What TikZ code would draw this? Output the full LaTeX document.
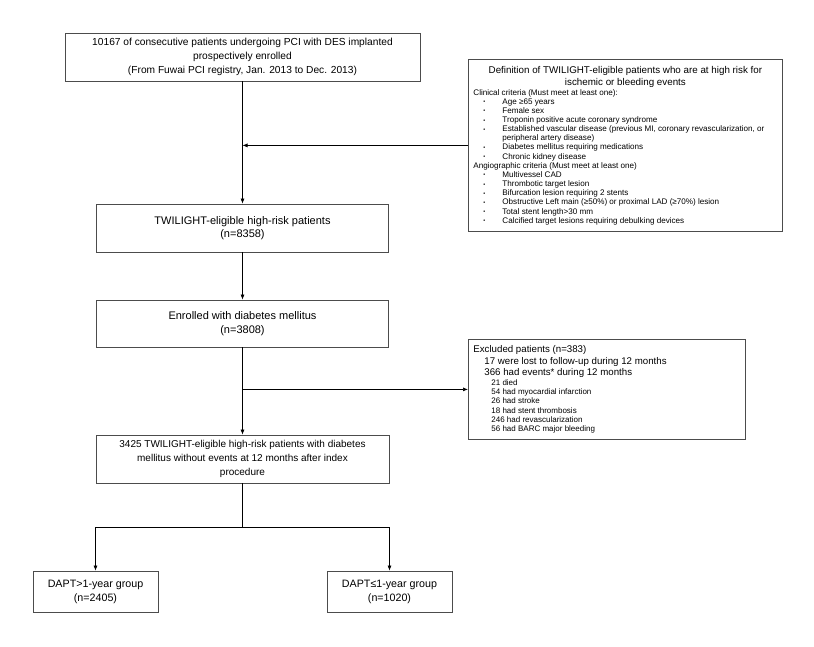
\documentclass[tikz,border=0pt]{standalone}
\usepackage{fontspec}
\setmainfont{Liberation Sans}
\usetikzlibrary{arrows.meta}

\newcommand{\critem}[1]{\hspace*{10pt}\makebox[19pt][l]{\raisebox{0.5pt}{\fontsize{5.5}{5.5}\selectfont •}}#1}
\newcommand{\eventitem}[1]{\hspace*{18pt}#1}

\begin{document}
\begin{tikzpicture}[x=1pt,y=-1pt]
		\tikzset{flowbox/.style={draw=black!70,line width=0.8pt,align=center,inner sep=0pt,
		    font=\fontsize{10.2}{13.8}\selectfont}}
		\tikzset{listbox/.style={draw=black!70,line width=0.8pt,align=flush left,anchor=north west,
		    inner xsep=5pt,inner ysep=3pt}}
		\tikzset{flow/.style={-{Latex[length=5pt,width=4pt]},line width=0.7pt}}
		\useasboundingbox (0,0) rectangle (814,646);
		\node[flowbox,minimum width=355pt,minimum height=48pt] (registry) at (242.5,57)
		   {10167 of consecutive patients undergoing PCI with DES implanted\\
		    prospectively enrolled\\
		    (From Fuwai PCI registry, Jan. 2013 to Dec. 2013)};
		\node[flowbox,font=\fontsize{11}{13.5}\selectfont,minimum width=292pt,minimum height=48pt]
		   (eligible) at (242.5,228) {TWILIGHT-eligible high-risk patients\\(n=8358)};
		\node[flowbox,font=\fontsize{11}{13.5}\selectfont,minimum width=292pt,minimum height=47pt]
		   (diabetes) at (242.5,323.5) {Enrolled with diabetes mellitus\\(n=3808)};
		\node[flowbox,font=\fontsize{10}{13.7}\selectfont,minimum width=293pt,minimum height=48pt]
		   (cohort) at (242.5,459)
		   {3425 TWILIGHT-eligible high-risk patients with diabetes\\
		    mellitus without events at 12 months after index\\
		    procedure};
		\node[flowbox,font=\fontsize{10.7}{14}\selectfont,minimum width=125pt,minimum height=41pt]
		   (longdapt) at (95.5,591.5) {DAPT>1-year group\\(n=2405)};
		\node[flowbox,font=\fontsize{10.7}{14}\selectfont,minimum width=125pt,minimum height=41pt]
		   (shortdapt) at (389.5,591.5) {DAPT≤1-year group\\(n=1020)};
		\node[listbox,text width=304pt,minimum height=172pt] (criteria) at (468,59)
		   {{\centering\fontsize{9.8}{12.9}\selectfont
		      Definition of TWILIGHT-eligible patients who are at high risk for\\
		      ischemic or bleeding events\par}
		    \fontsize{8.1}{9.15}\selectfont
		    Clinical criteria (Must meet at least one):\\
		    \critem{Age ≥65 years}\\
		    \critem{Female sex}\\
		    \critem{Troponin positive acute coronary syndrome}\\
		    \critem{Established vascular disease (previous MI, coronary revascularization, or}\\
		    \hspace*{29pt}peripheral artery disease)\\
		    \critem{Diabetes mellitus requiring medications}\\
		    \critem{Chronic kidney disease}\\
		    Angiographic criteria (Must meet at least one)\\
		    \critem{Multivessel CAD}\\
		    \critem{Thrombotic target lesion}\\
		    \critem{Bifurcation lesion requiring 2 stents}\\
		    \critem{Obstructive Left main (≥50\%) or proximal LAD (≥70\%) lesion}\\
		    \critem{Total stent length>30 mm}\\
		    \critem{Calcified target lesions requiring debulking devices}\par};
		\node[listbox,text width=267pt,minimum height=100pt] (excluded) at (468,339)
		   {{\fontsize{9.7}{11.7}\selectfont
		      Excluded patients (n=383)\\
		      \hspace*{11pt}17 were lost to follow-up during 12 months\\
		      \hspace*{11pt}366 had events* during 12 months\par}
		    \fontsize{8}{9.3}\selectfont
		    \eventitem{21 died}\\
		    \eventitem{54 had myocardial infarction}\\
		    \eventitem{26 had stroke}\\
		    \eventitem{18 had stent thrombosis}\\
		    \eventitem{246 had revascularization}\\
		    \eventitem{56 had BARC major bleeding}\par};
		\coordinate (fork) at (242.5,527);
		\draw[flow] (registry.south) -- (registry.south |- eligible.north);
		\draw[flow] (criteria.west) -- (registry.south |- criteria.west);
		\draw[flow] (eligible.south) -- (diabetes.north);
		\draw[flow] (diabetes.south) -- (cohort.north);
		\draw[flow] (diabetes.south |- excluded.west) -- (excluded.west);
		\draw[line width=0.7pt] (cohort.south) -- (fork);
		\draw[flow] (fork) -| (longdapt.north);
		\draw[flow] (fork) -| (shortdapt.north);
\end{tikzpicture}
\end{document}
